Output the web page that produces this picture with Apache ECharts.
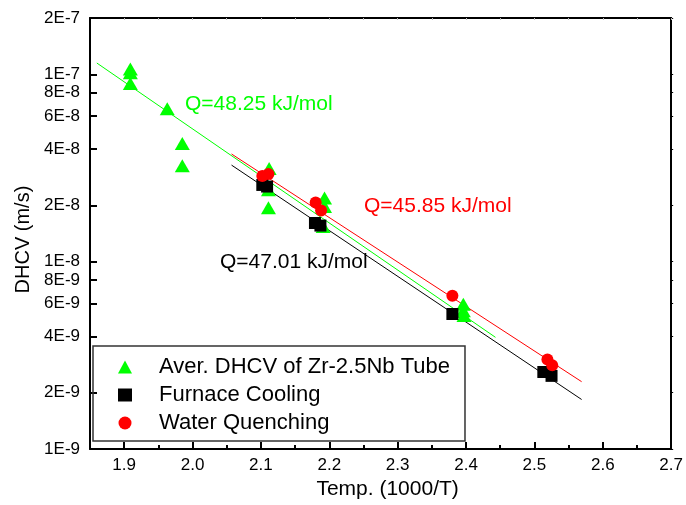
<!DOCTYPE html>
<html>
<head>
<meta charset="utf-8">
<script src="https://cdn.jsdelivr.net/npm/echarts@6/dist/echarts.min.js"></script>
<style>
  html, body { margin: 0; padding: 0; background: #fff; }
  #chart { width: 686px; height: 505px; }
</style>
</head>
<body>
<div id="chart"></div>
<script>
// Aver. DHCV of Zr-2.5Nb tube (green triangles)
const tubeX = [1.909, 1.909, 1.909, 1.963, 1.985, 1.985, 2.112, 2.111, 2.111, 2.193, 2.193, 2.191, 2.396, 2.396, 2.397];
const tubeY = [1.07e-7, 1.02e-7, 8.93e-8, 6.56e-8, 4.28e-8, 3.25e-8, 3.15e-8, 2.42e-8, 1.94e-8, 2.19e-8, 1.97e-8, 1.54e-8, 5.94e-9, 5.47e-9, 5.16e-9];

// furnace cooling (black squares)
const furnaceX = [2.102, 2.109, 2.179, 2.187, 2.380, 2.513, 2.525];
const furnaceY = [2.57e-8, 2.52e-8, 1.61e-8, 1.56e-8, 5.26e-9, 2.58e-9, 2.46e-9];

// water quenching (red circles)
const waterX = [2.102, 2.111, 2.180, 2.188, 2.380, 2.519, 2.526];
const waterY = [2.87e-8, 2.94e-8, 2.07e-8, 1.88e-8, 6.58e-9, 3.01e-9, 2.80e-9];

// Arrhenius fit lines (end points)
const fitTubeX = [1.86, 2.443];
const fitTubeY = [1.15e-7, 3.95e-9];
const fitWaterX = [2.057, 2.569];
const fitWaterY = [3.76e-8, 2.29e-9];
const fitFurnaceX = [2.057, 2.569];
const fitFurnaceY = [3.28e-8, 1.84e-9];

const xTicks = [1.9, 2.0, 2.1, 2.2, 2.3, 2.4, 2.5, 2.6, 2.7];
const xMinorTicks = [1.95, 2.05, 2.15, 2.25, 2.35, 2.45, 2.55, 2.65];
const yTicks = [1e-9, 2e-9, 4e-9, 6e-9, 8e-9, 1e-8, 2e-8, 4e-8, 6e-8, 8e-8, 1e-7, 2e-7];
const yTickLabels = ['1E-9', '2E-9', '4E-9', '6E-9', '8E-9', '1E-8', '2E-8', '4E-8', '6E-8', '8E-8', '1E-7', '2E-7'];

const seriesNames = ['Aver. DHCV of Zr-2.5Nb Tube', 'Furnace Cooling', 'Water Quenching'];

function pairs(xs, ys) {
  return xs.map((x, i) => [x, ys[i]]);
}

function yLabel(v) {
  let best = 0;
  for (let i = 1; i < yTicks.length; i++) {
    if (Math.abs(Math.log10(v / yTicks[i])) < Math.abs(Math.log10(v / yTicks[best]))) best = i;
  }
  return yTickLabels[best];
}

const FONT = 'Liberation Sans, Arial, sans-serif';
const Y_MIN = 1e-9;
const Y_MAX = 2e-7;
// ECharts 6 shoves the two end labels sideways, so those two are placed by hand below
const yEndTicks = [yTicks[0], yTicks[yTicks.length - 1]];
const yInnerTicks = yTicks.slice(1, -1);

const chart = echarts.init(document.getElementById('chart'));

const option = {
  animation: false,
  backgroundColor: '#fff',
  grid: { left: 90, right: 9, top: 18, bottom: 54 },
  legend: {
    orient: 'vertical',
    left: 93,
    top: 346,
    data: seriesNames,
    itemWidth: 14,
    itemHeight: 13,
    itemGap: 6,
    padding: [10, 15, 7, 25],
    borderColor: '#333',
    borderWidth: 1.5,
    textStyle: { fontFamily: FONT, fontSize: 22, color: '#000', lineHeight: 20, padding: [0, 0, 0, 22] }
  },
  xAxis: [
    {
      type: 'value',
      min: 1.85,
      max: 2.7,
      position: 'bottom',
      name: 'Temp. (1000/T)',
      nameLocation: 'middle',
      nameGap: 27,
      nameTextStyle: { fontFamily: FONT, fontSize: 21, color: '#000', padding: [0, 0, 0, 14] },
      axisLine: { lineStyle: { color: '#000', width: 2 } },
      axisTick: { inside: true, length: 7, lineStyle: { color: '#000', width: 2 }, customValues: xTicks },
      axisLabel: { fontFamily: FONT, fontSize: 17, color: '#000', margin: 8, customValues: xTicks, formatter: v => v.toFixed(1) },
      splitLine: { show: false }
    },
    {
      type: 'value',
      min: 1.85,
      max: 2.7,
      position: 'bottom',
      axisLine: { show: false },
      axisTick: { inside: true, length: 4, lineStyle: { color: '#000', width: 2 }, customValues: xMinorTicks },
      axisLabel: { show: false },
      splitLine: { show: false }
    },
    {
      type: 'value',
      min: 1.85,
      max: 2.7,
      position: 'top',
      axisLine: { lineStyle: { color: '#000', width: 2 } },
      axisTick: { inside: true, length: 2, lineStyle: { color: '#bbb', width: 1 }, customValues: xTicks.concat(xMinorTicks) },
      axisLabel: { show: false },
      splitLine: { show: false }
    }
  ],
  yAxis: [
    {
      type: 'log',
      logBase: 10,
      min: Y_MIN,
      max: Y_MAX,
      position: 'left',
      name: 'DHCV (m/s)',
      nameLocation: 'middle',
      nameGap: 56,
      nameTextStyle: { fontFamily: FONT, fontSize: 20, color: '#000', padding: [0, 12, 0, 0] },
      axisLine: { lineStyle: { color: '#000', width: 2 } },
      axisTick: { inside: true, length: 7, lineStyle: { color: '#000', width: 2 }, customValues: yTicks },
      axisLabel: { fontFamily: FONT, fontSize: 17, color: '#000', margin: 10, customValues: yInnerTicks, formatter: yLabel },
      splitLine: { show: false },
      minorTick: { show: false }
    },
    {
      type: 'log',
      logBase: 10,
      min: Y_MIN,
      max: Y_MAX,
      position: 'right',
      axisLine: { lineStyle: { color: '#000', width: 2 } },
      axisTick: { inside: false, length: 2, lineStyle: { color: '#000', width: 1 }, customValues: yTicks },
      axisLabel: { show: false },
      splitLine: { show: false }
    }
  ],
  graphic: [
    { type: 'text', left: 185, top: 94, style: { text: 'Q=48.25 kJ/mol', fill: '#00ff00', font: '21px ' + FONT } },
    { type: 'text', left: 364, top: 196, style: { text: 'Q=45.85 kJ/mol', fill: '#ff0000', font: '21px ' + FONT } },
    { type: 'text', left: 220, top: 252, style: { text: 'Q=47.01 kJ/mol', fill: '#000', font: '21px ' + FONT } }
  ],
  series: [
    {
      name: 'fit tube', type: 'line', data: pairs(fitTubeX, fitTubeY), showSymbol: false, symbol: 'none',
      lineStyle: { color: '#00ff00', width: 1 }, silent: true, z: 1
    },
    {
      name: 'fit water', type: 'line', data: pairs(fitWaterX, fitWaterY), showSymbol: false, symbol: 'none',
      lineStyle: { color: '#ff0000', width: 1 }, silent: true, z: 1
    },
    {
      name: 'fit furnace', type: 'line', data: pairs(fitFurnaceX, fitFurnaceY), showSymbol: false, symbol: 'none',
      lineStyle: { color: '#000', width: 1 }, silent: true, z: 1
    },
    {
      name: seriesNames[0], type: 'scatter', data: pairs(tubeX, tubeY),
      symbol: 'triangle', symbolSize: [15, 13], itemStyle: { color: '#00ff00', opacity: 1 }, z: 2
    },
    {
      name: seriesNames[1], type: 'scatter', data: pairs(furnaceX, furnaceY),
      symbol: 'rect', symbolSize: 12, itemStyle: { color: '#000', opacity: 1 }, z: 3
    },
    {
      name: seriesNames[2], type: 'scatter', data: pairs(waterX, waterY),
      symbol: 'circle', symbolSize: 12, itemStyle: { color: '#ff0000', opacity: 1 }, z: 4
    }
  ]
};

chart.setOption(option);

// end labels: positioned through the y axis scale, right-aligned like the others
const axisX = chart.convertToPixel({ xAxisIndex: 0 }, 1.85);
const endLabels = yEndTicks.map(v => ({
  type: 'text',
  x: axisX - 10,
  y: chart.convertToPixel({ yAxisIndex: 0 }, v),
  style: { text: yLabel(v), fill: '#000', font: '17px ' + FONT, align: 'right', verticalAlign: 'middle' }
}));
chart.setOption({ graphic: option.graphic.concat(endLabels) });
</script>
</body>
</html>
